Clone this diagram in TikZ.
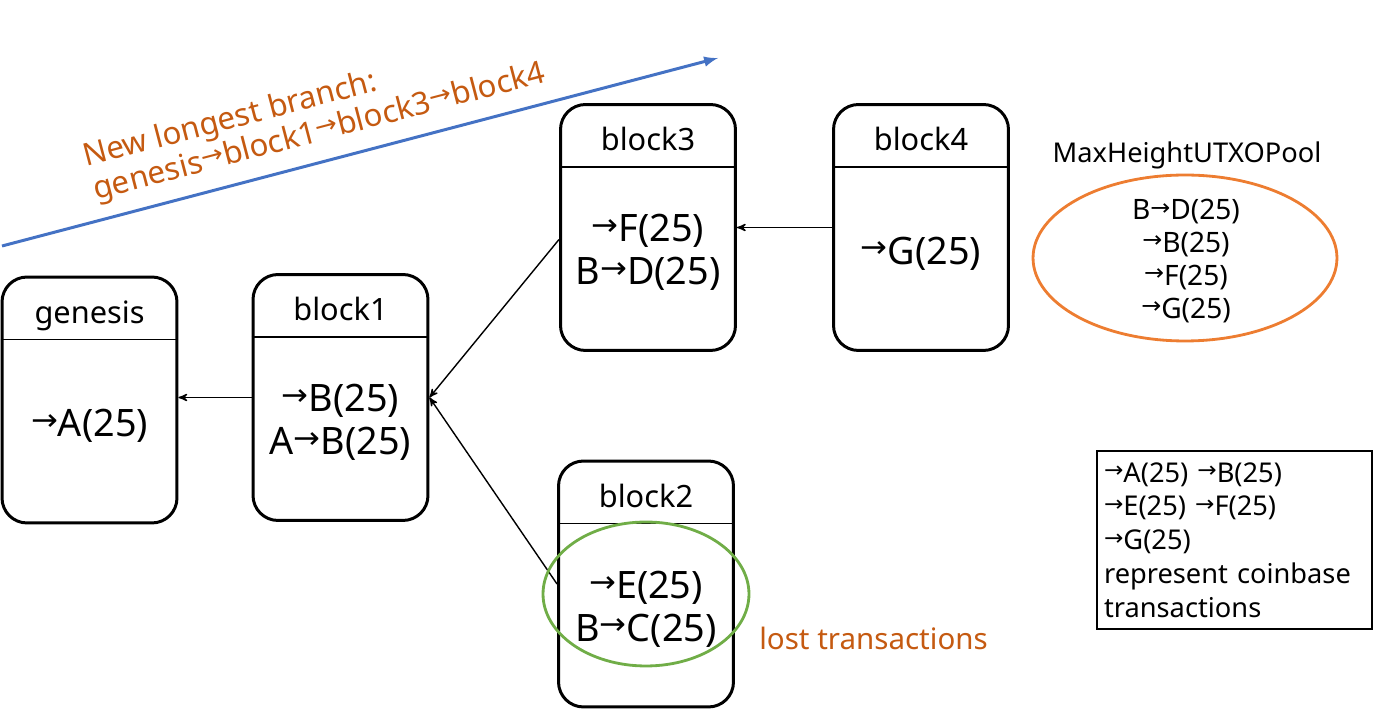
\documentclass[tikz,border=0pt]{standalone}
\usepackage{fontspec}
\setmainfont{Noto Sans}
\newfontfamily\arrowfont{DejaVu Sans}
\usetikzlibrary{arrows}
\usetikzlibrary{shapes.geometric}
\definecolor{branchblue}{HTML}{4472C4}
\definecolor{noteorange}{HTML}{C55A11}
\definecolor{poolorange}{HTML}{ED7D31}
\definecolor{lostgreen}{HTML}{70AD47}
\newcommand{\pays}{{\arrowfont\raisebox{0.3ex}{\scalebox{0.85}[0.8]{→}}}}
\tikzset{blockbox/.style={draw, line width=1.7pt, rounded corners=0.5cm, minimum width=3.5cm, minimum height=4.92cm},
	blocktitle/.style={anchor=base, inner sep=0pt, font=\fontsize{17.5}{20}\selectfont},
	blockbody/.style={align=center, inner sep=0pt, font=\fontsize{21.5}{24.4}\selectfont},
	divider/.style={line width=0.8pt},
	link/.style={->, >=stealth', line width=0.8pt},
	branch/.style={-latex, draw=branchblue, line width=1.7pt},
	branchnote/.style={anchor=base west, rotate=14.7, inner sep=0pt, text=noteorange, font=\fontsize{17.8}{20}\selectfont}}

\begin{document}
\begin{tikzpicture}[x=0.02cm, y=-0.02cm]
	\useasboundingbox (0,0) rectangle (1374,709);
	% blocks
	\node[blockbox] (genesis) at (89.5,400) {};
	\node[blocktitle] (genesis-title) at ([yshift=-0.95cm]genesis.north) {genesis};
	\draw[divider] ([yshift=-1.28cm]genesis.north west) -- ([yshift=-1.28cm]genesis.north east);
	\node[blockbody] (genesis-body) at ([yshift=-0.52cm]genesis.center) {\pays A(25)};

	\node[blockbox] (block1) at (340.5,397.5) {};
	\node[blocktitle] (block1-title) at ([yshift=-0.95cm]block1.north) {block1};
	\draw[divider] ([yshift=-1.28cm]block1.north west) -- ([yshift=-1.28cm]block1.north east);
	\node[blockbody] (block1-body) at ([yshift=-0.5cm]block1.center) {\pays B(25)\\A\pays B(25)};

	\node[blockbox] (block3) at (648,227.5) {};
	\node[blocktitle] (block3-title) at ([yshift=-0.95cm]block3.north) {block3};
	\draw[divider] ([yshift=-1.28cm]block3.north west) -- ([yshift=-1.28cm]block3.north east);
	\node[blockbody] (block3-body) at ([yshift=-0.5cm]block3.center) {\pays F(25)\\B\pays D(25)};

	\node[blockbox] (block4) at (921,227.5) {};
	\node[blocktitle] (block4-title) at ([yshift=-0.95cm]block4.north) {block4};
	\draw[divider] ([yshift=-1.28cm]block4.north west) -- ([yshift=-1.28cm]block4.north east);
	\node[blockbody] (block4-body) at ([yshift=-0.52cm]block4.center) {\pays G(25)};

	\node[blockbox] (block2) at (646,584) {};
	\node[blocktitle] (block2-title) at ([yshift=-0.95cm]block2.north) {block2};
	\draw[divider] ([yshift=-1.28cm]block2.north west) -- ([yshift=-1.28cm]block2.north east);
	\node[blockbody] (block2-body) at ([yshift=-0.5cm]block2.center) {\pays E(25)\\B\pays C(25)};

	% links to parents
	\draw[link] (block1.west) -- (block1.west -| genesis.east);
	\draw[link] (block4.west) -- (block4.west -| block3.east);
	\draw[link] ([yshift=-0.24cm]block3.west) -- (block1.east);
	\draw[link] (block2.west) -- (block1.east);

	% longest branch
	\coordinate (branch-start) at (2,246);
	\coordinate (branch-end) at (718,58);
	\draw[branch] (branch-start) -- (branch-end);
	\node[branchnote] (branch-line1) at (86,167) {New longest branch:};
	\node[branchnote] (branch-line2) at (96,200) {genesis\pays block1\pays block3\pays block4};

	% lost transactions
	\node[ellipse, draw=lostgreen, line width=1.6pt, minimum width=4.12cm, minimum height=2.88cm] (lost) at (646,594) {};
	\node[anchor=west, inner sep=0pt, text=noteorange, font=\fontsize{16.8}{20}\selectfont] (lost-label) at (759,638) {lost transactions};

	% utxo pool
	\node[font=\fontsize{15.5}{19}\selectfont] (pool-label) at (1187,155) {MaxHeightUTXOPool};
	\node[ellipse, draw=poolorange, line width=1.6pt, minimum width=6.08cm, minimum height=3.32cm] (pool) at (1185,258) {};
	\node[align=center, font=\fontsize{16}{18.7}\selectfont] (pool-body) at (1186,261) {B\pays D(25)\\\pays B(25)\\\pays F(25)\\\pays G(25)};

	% legend
	\node[draw, line width=0.8pt, minimum width=5.5cm, minimum height=3.56cm, inner xsep=0.14cm, text width=5.22cm, align=left, font=\fontsize{15.5}{19.2}\selectfont] (legend) at (1234.5,540) {\pays A(25) \pays B(25)\\\pays E(25) \pays F(25)\\\pays G(25)\\represent coinbase\\transactions};
\end{tikzpicture}
\end{document}
